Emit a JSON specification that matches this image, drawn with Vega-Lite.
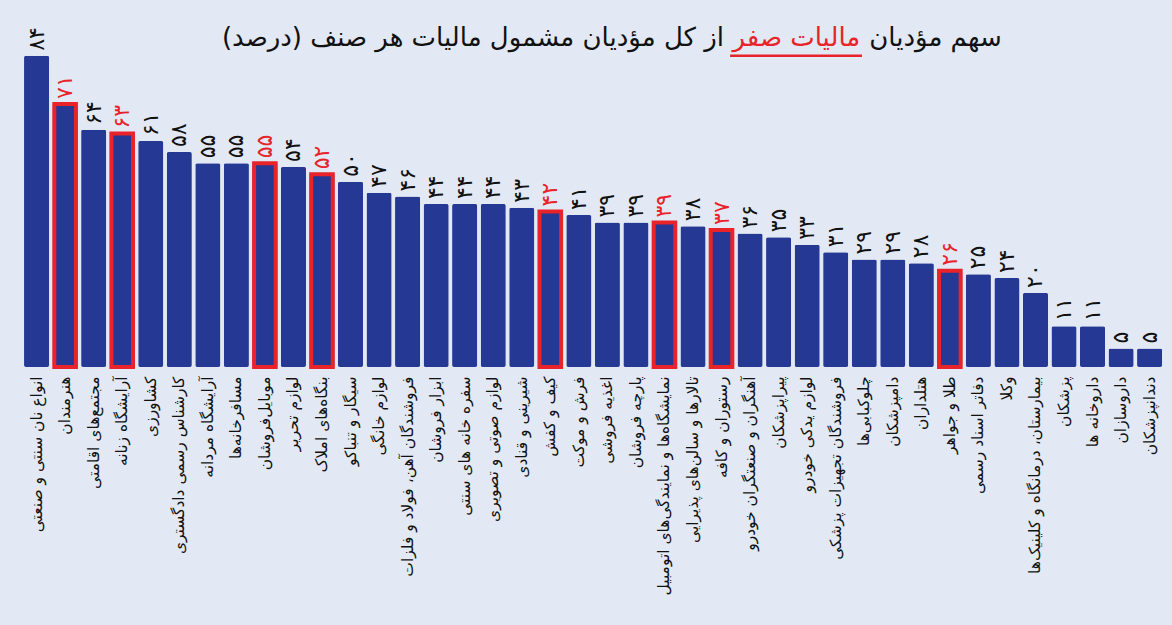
{
  "$schema": "https://vega.github.io/schema/vega-lite/v6.json",
  "width": 1145,
  "height": 352,
  "padding": {"left": 20.6, "top": 15, "right": 6, "bottom": 30},
  "background": "#e2e9f4",
  "config": {"view": {"stroke": null}, "font": "DejaVu Sans"},
  "layer": [
    {
      "data": {"name": "bars", "values": [
        {"c": "انواع نان سنتی و صنعتی", "v": 84, "t": "۸۴", "h": 0},
        {"c": "هنرمندان", "v": 71, "t": "۷۱", "h": 1},
        {"c": "مجتمع‌های اقامتی", "v": 64, "t": "۶۴", "h": 0},
        {"c": "آرایشگاه زنانه", "v": 63, "t": "۶۳", "h": 1},
        {"c": "کشاورزی", "v": 61, "t": "۶۱", "h": 0},
        {"c": "کارشناس رسمی دادگستری", "v": 58, "t": "۵۸", "h": 0},
        {"c": "آرایشگاه مردانه", "v": 55, "t": "۵۵", "h": 0},
        {"c": "مسافرخانه‌ها", "v": 55, "t": "۵۵", "h": 0},
        {"c": "موبایل‌فروشان", "v": 55, "t": "۵۵", "h": 1},
        {"c": "لوازم تحریر", "v": 54, "t": "۵۴", "h": 0},
        {"c": "بنگاه‌های املاک", "v": 52, "t": "۵۲", "h": 1},
        {"c": "سیگار و تنباکو", "v": 50, "t": "۵۰", "h": 0},
        {"c": "لوازم خانگی", "v": 47, "t": "۴۷", "h": 0},
        {"c": "فروشندگان آهن، فولاد و فلزات", "v": 46, "t": "۴۶", "h": 0},
        {"c": "ابزار فروشان", "v": 44, "t": "۴۴", "h": 0},
        {"c": "سفره خانه های سنتی", "v": 44, "t": "۴۴", "h": 0},
        {"c": "لوازم صوتی و تصویری", "v": 44, "t": "۴۴", "h": 0},
        {"c": "شیرینی و قنادی", "v": 43, "t": "۴۳", "h": 0},
        {"c": "کیف و کفش", "v": 42, "t": "۴۲", "h": 1},
        {"c": "فرش و موکت", "v": 41, "t": "۴۱", "h": 0},
        {"c": "اغذیه فروشی", "v": 39, "t": "۳۹", "h": 0},
        {"c": "پارچه فروشان", "v": 39, "t": "۳۹", "h": 0},
        {"c": "نمایشگاه‌ها و نمایندگی‌های اتومبیل", "v": 39, "t": "۳۹", "h": 1},
        {"c": "تالارها و سالن‌های پذیرایی", "v": 38, "t": "۳۸", "h": 0},
        {"c": "رستوران و کافه", "v": 37, "t": "۳۷", "h": 1},
        {"c": "آهنگران و صنعتگران خودرو", "v": 36, "t": "۳۶", "h": 0},
        {"c": "پیراپزشکان", "v": 35, "t": "۳۵", "h": 0},
        {"c": "لوازم یدکی خودرو", "v": 33, "t": "۳۳", "h": 0},
        {"c": "فروشندگان تجهیزات پزشکی", "v": 31, "t": "۳۱", "h": 0},
        {"c": "چلوکبابی‌ها", "v": 29, "t": "۲۹", "h": 0},
        {"c": "دامپزشکان", "v": 29, "t": "۲۹", "h": 0},
        {"c": "هتلداران", "v": 28, "t": "۲۸", "h": 0},
        {"c": "طلا و جواهر", "v": 26, "t": "۲۶", "h": 1},
        {"c": "دفاتر اسناد رسمی", "v": 25, "t": "۲۵", "h": 0},
        {"c": "وکلا", "v": 24, "t": "۲۴", "h": 0},
        {"c": "بیمارستان، درمانگاه و کلینیک‌ها", "v": 20, "t": "۲۰", "h": 0},
        {"c": "پزشکان", "v": 11, "t": "۱۱", "h": 0},
        {"c": "داروخانه ها", "v": 11, "t": "۱۱", "h": 0},
        {"c": "داروسازان", "v": 5, "t": "۵", "h": 0},
        {"c": "دندانپزشکان", "v": 5, "t": "۵", "h": 0}
      ]},
      "encoding": {
        "x": {"field": "c", "type": "nominal", "sort": null,
          "scale": {"paddingInner": 0.12, "paddingOuter": 0.12},
          "axis": {"title": null, "labelAngle": -90, "labelFontSize": 15.5, "labelColor": "#111", "labelFont": "DejaVu Sans",
            "ticks": false, "domain": false, "labelPadding": 9, "labelLimit": 400}},
        "y": {"field": "v", "type": "quantitative", "scale": {"domain": [0, 95], "nice": false}, "axis": null}
      },
      "layer": [
        {"mark": {"type": "bar", "fill": "#253893", "cornerRadius": 2}},
        {"transform": [{"filter": "datum.h == 1"}],
         "mark": {"type": "bar", "fill": null, "fillOpacity": 0, "stroke": "#e8232a", "strokeWidth": 4, "width": {"band": 0.86}}},
        {"mark": {"type": "text", "angle": 270, "align": "left", "baseline": "middle", "dx": 5, "fontSize": 22, "font": "DejaVu Sans"},
         "encoding": {
           "text": {"field": "t"},
           "color": {"condition": {"test": "datum.h == 1", "value": "#e8232a"}, "value": "#111"}
         }}
      ]
    },
    {"data": {"values": [{"k": 1}]},
     "mark": {"type": "text", "align": "left", "baseline": "middle", "dx": 5, "fontSize": 26, "font": "DejaVu Sans", "color": "#111"},
     "encoding": {"x": {"datum": "چلوکبابی‌ها", "type": "nominal"}, "y": {"datum": 88.9, "type": "quantitative"}, "text": {"value": "سهم مؤدیان"}}},
    {"data": {"values": [{"k": 1}]},
     "mark": {"type": "text", "align": "right", "baseline": "middle", "dx": -4, "fontSize": 26, "font": "DejaVu Sans", "color": "#e8232a"},
     "encoding": {"x": {"datum": "چلوکبابی‌ها", "type": "nominal"}, "y": {"datum": 88.9, "type": "quantitative"}, "text": {"value": "مالیات صفر"}}},
    {"data": {"values": [{"k": 1}]},
     "mark": {"type": "text", "align": "right", "baseline": "middle", "dx": 2.5, "fontSize": 26, "font": "DejaVu Sans", "color": "#111"},
     "encoding": {"x": {"datum": "رستوران و کافه", "type": "nominal"}, "y": {"datum": 88.9, "type": "quantitative"}, "text": {"value": "از کل مؤدیان مشمول مالیات هر صنف (درصد)‏"}}},
    {"data": {"values": [{"k": 1}]},
     "mark": {"type": "rule", "color": "#e8232a", "strokeWidth": 2.5},
     "encoding": {"x": {"datum": "رستوران و کافه", "type": "nominal", "bandPosition": 0.84}, "x2": {"datum": "چلوکبابی‌ها", "bandPosition": 0.41}, "y": {"datum": 84, "type": "quantitative"}}}
  ]
}
